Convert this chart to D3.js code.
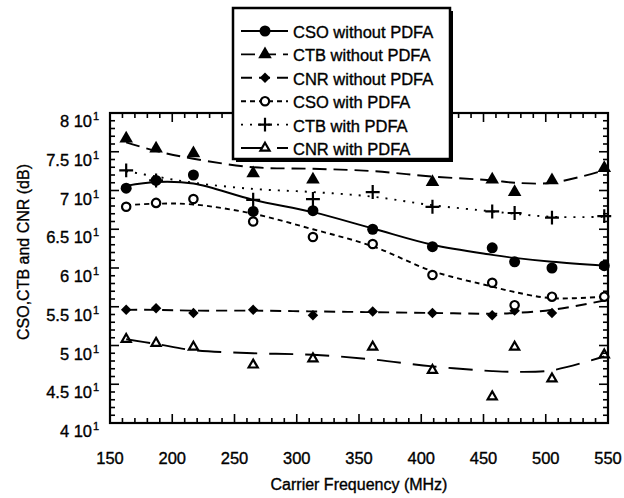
<!DOCTYPE html>
<html>
<head>
<meta charset="utf-8">
<script src="https://cdn.jsdelivr.net/npm/d3@7"></script>
<style>
body { margin: 0; background: #fff; }
svg { display: block; font-family: 'Liberation Sans', Arial, sans-serif; }
svg text { stroke: #000; stroke-width: 0.35px; }
</style>
</head>
<body>
<div class="chart"></div>
<script>
//====================DATA===================

const freq = [163, 187, 217, 265, 313, 361, 409, 457, 475, 505, 547];

// measured points (null = not visible)
const csoWithout = [70.3, 71.3, 72.0, 67.3, 67.4, 65.0, 62.75, 62.6, 60.8, 60.0, 60.3];
const ctbWithout = [76.7, 75.4, 74.8, 72.2, 71.4, null, 71.1, 71.4, 69.8, 71.3, 72.9];
const cnrWithout = [54.6, 54.8, 54.2, 54.6, 53.9, 54.4, 54.2, 53.9, 54.5, 54.2, null];
const csoWith = [67.9, 68.4, 68.9, 66.0, 64.0, 63.1, 59.1, 58.1, 55.2, 56.3, 56.3];
const ctbWith = [72.6, 71.3, null, 68.8, 68.9, 69.8, 67.9, 67.3, 67.1, 66.5, 66.7];
const cnrWith = [50.8, 50.3, 49.8, 47.5, 48.3, 49.8, 46.8, 43.4, 49.8, 45.7, 48.8];

// fitted curves at the same frequencies
const csoWithoutFit = [70.6, 71.1, 70.9, 68.8, 67.2, 65.1, 63.0, 61.7, 61.3, 60.8, 60.3];
const ctbWithoutFit = [76.2, 75.1, 74.1, 73.0, 72.8, 72.5, 71.8, 71.3, 71.0, 71.0, 72.6];
const cnrWithoutFit = [54.6, 54.6, 54.5, 54.5, 54.4, 54.3, 54.2, 54.1, 54.2, 54.6, 55.8];
const csoWithFit = [68.1, 68.3, 68.2, 67.0, 65.0, 62.8, 59.6, 57.6, 56.9, 56.1, 56.3];
const ctbWithFit = [72.5, 71.8, 71.0, 70.2, 69.8, 69.2, 68.1, 67.3, 67.0, 66.6, 66.6];
const cnrWithFit = [50.8, 50.2, 49.4, 49.0, 48.8, 48.2, 47.3, 46.7, 46.6, 46.8, 48.6];

const seriesNames = ['CSO without PDFA', 'CTB without PDFA', 'CNR without PDFA',
  'CSO with PDFA', 'CTB with PDFA', 'CNR with PDFA'];

const xTicks = [150, 200, 250, 300, 350, 400, 450, 500, 550];
const yTicks = [40, 45, 50, 55, 60, 65, 70, 75, 80];
const yTickLabels = ['4', '4.5', '5', '5.5', '6', '6.5', '7', '7.5', '8'];

//====================STRUCTURE===================

const width = 624;
const height = 498;
const margin = {top: 113, right: 16, bottom: 75, left: 110};

const x = d3.scaleLinear().domain([150, 550]).range([margin.left, width - margin.right]);
const y = d3.scaleLinear().domain([40, 80]).range([height - margin.bottom, margin.top]);

const svg = d3.select('.chart').append('svg')
  .attr('width', width)
  .attr('height', height);

const series = [
  {vals: csoWithout, fit: csoWithoutFit, dash: null, sym: d3.symbolCircle, size: 95, fill: '#000', stroke: 'none'},
  {vals: ctbWithout, fit: ctbWithoutFit, dash: '14,7', sym: d3.symbolTriangle, size: 80, fill: '#000', stroke: 'none'},
  {vals: cnrWithout, fit: cnrWithoutFit, dash: '11,7', sym: d3.symbolDiamond2, size: 70, fill: '#000', stroke: 'none'},
  {vals: csoWith, fit: csoWithFit, dash: '5,4', sym: d3.symbolCircle, size: 55, fill: '#fff', stroke: '#000'},
  {vals: ctbWith, fit: ctbWithFit, dash: '2,7', sym: d3.symbolPlus, size: 65, fill: 'none', stroke: '#000'},
  {vals: cnrWith, fit: cnrWithFit, dash: '24,12', sym: d3.symbolTriangle2, size: 60, fill: 'none', stroke: '#000'}
];

//====================AXES===================

const axisG = svg.append('g').attr('class', 'axes');

const yMinor = d3.range(40, 80.01, 1);
const xMinor = d3.range(150, 550.01, 10);

// left + right ticks (inward)
yMinor.forEach(v => {
  const major = v % 5 === 0;
  const len = major ? 9 : 5;
  axisG.append('line').attr('x1', x.range()[0]).attr('x2', x.range()[0] + len)
    .attr('y1', y(v)).attr('y2', y(v)).attr('stroke', '#000').attr('stroke-width', 1.6);
  axisG.append('line').attr('x1', x.range()[1]).attr('x2', x.range()[1] - len)
    .attr('y1', y(v)).attr('y2', y(v)).attr('stroke', '#000').attr('stroke-width', 1.6);
});

// bottom + top ticks (inward)
xMinor.forEach(v => {
  const major = v % 50 === 0;
  const len = major ? 9 : 5;
  axisG.append('line').attr('y1', y.range()[0]).attr('y2', y.range()[0] - len)
    .attr('x1', x(v)).attr('x2', x(v)).attr('stroke', '#000').attr('stroke-width', 1.6);
  axisG.append('line').attr('y1', y.range()[1]).attr('y2', y.range()[1] + len)
    .attr('x1', x(v)).attr('x2', x(v)).attr('stroke', '#000').attr('stroke-width', 1.6);
});

axisG.append('rect')
  .attr('x', x.range()[0]).attr('y', y.range()[1])
  .attr('width', x.range()[1] - x.range()[0])
  .attr('height', y.range()[0] - y.range()[1])
  .attr('fill', 'none').attr('stroke', '#000').attr('stroke-width', 2.2);

// y tick labels, "N 10^1"
yTicks.forEach((v, i) => {
  axisG.append('text')
    .attr('x', 92).attr('y', y(v) + 14)
    .attr('text-anchor', 'end')
    .attr('font-size', 16.5)
    .text(yTickLabels[i] + ' 10');
  axisG.append('text')
    .attr('x', 93).attr('y', y(v) + 7)
    .attr('font-size', 11)
    .text('1');
});

xTicks.forEach(v => {
  axisG.append('text')
    .attr('x', x(v)).attr('y', 464)
    .attr('text-anchor', 'middle')
    .attr('font-size', 16.5)
    .text(v);
});

svg.append('text')
  .attr('x', (x.range()[0] + x.range()[1]) / 2).attr('y', 490)
  .attr('text-anchor', 'middle')
  .attr('font-size', 16)
  .text('Carrier Frequency (MHz)');

svg.append('text')
  .attr('transform', 'translate(29,252) rotate(-90)')
  .attr('text-anchor', 'middle')
  .attr('font-size', 16)
  .text('CSO,CTB and CNR (dB)');

//====================LINES & MARKERS===================

const line = d3.line()
  .x(d => x(d[0]))
  .y(d => y(d[1]))
  .curve(d3.curveCatmullRom.alpha(0.5));

const plotG = svg.append('g').attr('class', 'plot');

series.forEach(s => {
  plotG.append('path')
    .datum(freq.map((f, i) => [f, s.fit[i]]))
    .attr('d', line)
    .attr('fill', 'none')
    .attr('stroke', '#000')
    .attr('stroke-width', 1.9)
    .attr('stroke-dasharray', s.dash);
});

series.forEach(s => {
  plotG.append('g')
    .selectAll('path')
    .data(freq.map((f, i) => [f, s.vals[i]]).filter(d => d[1] != null))
    .enter()
    .append('path')
    .attr('transform', d => `translate(${x(d[0])},${y(d[1])})`)
    .attr('d', d3.symbol().type(s.sym).size(s.size))
    .attr('fill', s.fill)
    .attr('stroke', s.stroke)
    .attr('stroke-width', 2.2);
});

//====================LEGEND===================

const legend = svg.append('g').attr('class', 'legend');
const lx = 233, ly = 8, lw = 217, lh = 151;

legend.append('rect')
  .attr('x', lx + 3).attr('y', ly + 3).attr('width', lw).attr('height', lh)
  .attr('fill', '#000');
legend.append('rect')
  .attr('x', lx).attr('y', ly).attr('width', lw).attr('height', lh)
  .attr('fill', '#fff').attr('stroke', '#000').attr('stroke-width', 2.5);

series.forEach((s, i) => {
  const ry = 31 + i * 23.4;
  legend.append('line')
    .attr('x1', 241).attr('x2', 288).attr('y1', ry).attr('y2', ry)
    .attr('stroke', '#000').attr('stroke-width', 1.9)
    .attr('stroke-dasharray', s.dash);
  legend.append('path')
    .attr('transform', `translate(265,${ry})`)
    .attr('d', d3.symbol().type(s.sym).size(s.size))
    .attr('fill', s.fill === 'none' ? '#fff' : s.fill)
    .attr('stroke', s.stroke)
    .attr('stroke-width', 2.2);
  legend.append('text')
    .attr('x', 293).attr('y', ry + 7)
    .attr('font-size', 16.5)
    .text(seriesNames[i]);
});
</script>
</body>
</html>
